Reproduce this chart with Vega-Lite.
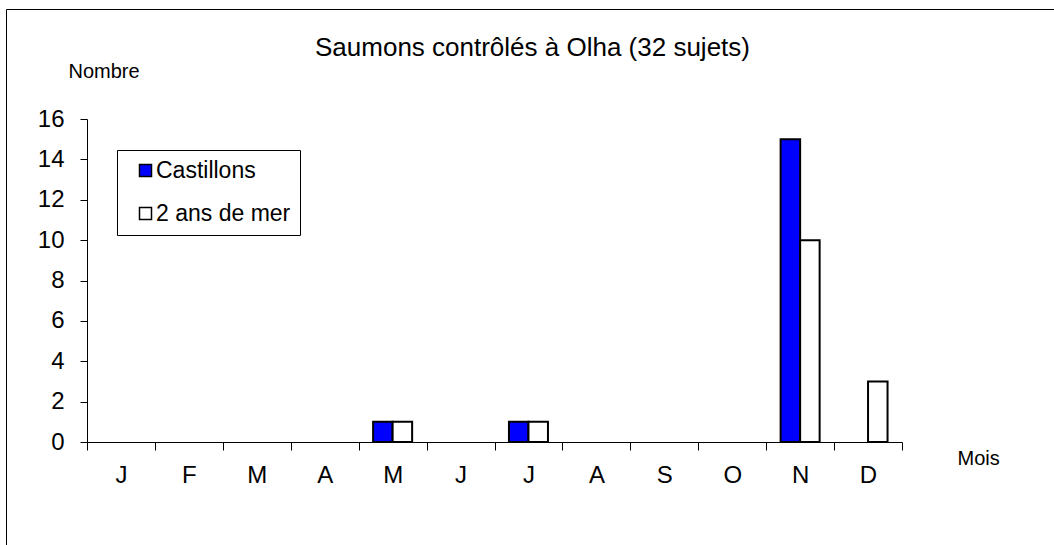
{
  "$schema": "https://vega.github.io/schema/vega-lite/v6.json",
  "width": 1070,
  "height": 560,
  "autosize": {"type": "none"},
  "padding": {"left": 6, "top": 9, "right": -22, "bottom": -24},
  "background": "#ffffff",
  "config": {
    "view": {"stroke": "#000000", "strokeWidth": 1},
    "font": "Liberation Sans"
  },
  "title": {
    "text": "Saumons contrôlés à Olha (32 sujets)",
    "font": "Liberation Sans",
    "fontSize": 26,
    "fontWeight": "normal",
    "color": "#000000",
    "anchor": "start",
    "frame": "group",
    "dx": 309,
    "offset": -52
  },
  "data": {
    "values": [
      {"mois": "Mai", "serie": "Castillons", "n": 1},
      {"mois": "Mai", "serie": "2 ans de mer", "n": 1},
      {"mois": "Juil", "serie": "Castillons", "n": 1},
      {"mois": "Juil", "serie": "2 ans de mer", "n": 1},
      {"mois": "Nov", "serie": "Castillons", "n": 15},
      {"mois": "Nov", "serie": "2 ans de mer", "n": 10},
      {"mois": "Déc", "serie": "2 ans de mer", "n": 3}
    ]
  },
  "mark": {"type": "bar", "stroke": "#000000", "strokeWidth": 2},
  "encoding": {
    "x": {
      "field": "mois",
      "type": "nominal",
      "scale": {
        "domain": ["Jan", "Fév", "Mar", "Avr", "Mai", "Juin", "Juil", "Août", "Sep", "Oct", "Nov", "Déc"],
        "range": [81, 896],
        "paddingInner": 0,
        "paddingOuter": 0
      },
      "axis": {
        "orient": "bottom",
        "offset": -127,
        "tickBand": "extent",
        "tickSize": 8,
        "tickColor": "#000000",
        "domainColor": "#000000",
        "labelExpr": "substring(datum.label, 0, 1)",
        "labelAngle": 0,
        "labelFont": "Liberation Sans",
        "labelFontSize": 24,
        "labelColor": "#000000",
        "labelBaseline": "alphabetic",
        "labelPadding": 32,
        "title": "Mois",
        "titleFont": "Liberation Sans",
        "titleFontSize": 20,
        "titleFontWeight": "normal",
        "titleColor": "#000000",
        "titleAlign": "left",
        "titleBaseline": "alphabetic",
        "titleX": 951,
        "titleY": 22
      }
    },
    "xOffset": {
      "field": "serie",
      "type": "nominal",
      "scale": {"domain": ["Castillons", "2 ans de mer"], "paddingInner": 0, "paddingOuter": 0.741}
    },
    "y": {
      "field": "n",
      "type": "quantitative",
      "scale": {"domain": [0, 16], "range": [433, 110], "nice": false, "zero": true},
      "axis": {
        "orient": "left",
        "offset": -81,
        "values": [0, 2, 4, 6, 8, 10, 12, 14, 16],
        "grid": false,
        "tickSize": 7,
        "tickColor": "#000000",
        "domainColor": "#000000",
        "labelFont": "Liberation Sans",
        "labelFontSize": 24,
        "labelColor": "#000000",
        "labelPadding": 16,
        "title": "Nombre",
        "titleFont": "Liberation Sans",
        "titleFontSize": 20,
        "titleFontWeight": "normal",
        "titleColor": "#000000",
        "titleAngle": 0,
        "titleAlign": "left",
        "titleBaseline": "alphabetic",
        "titleX": -19,
        "titleY": 68
      }
    },
    "fill": {
      "field": "serie",
      "type": "nominal",
      "scale": {"domain": ["Castillons", "2 ans de mer"], "range": ["#0000ff", "#ffffff"]},
      "legend": {
        "orient": "none",
        "legendX": 111,
        "legendY": 141,
        "title": null,
        "strokeColor": "#000000",
        "fillColor": "#ffffff",
        "padding": 9,
        "symbolType": "square",
        "symbolSize": 144,
        "symbolStrokeColor": "#000000",
        "symbolStrokeWidth": 1.5,
        "symbolOffset": 8,
        "labelOffset": -1,
        "labelFont": "Liberation Sans",
        "labelFontSize": 23,
        "labelColor": "#000000",
        "rowPadding": 19
      }
    }
  }
}
